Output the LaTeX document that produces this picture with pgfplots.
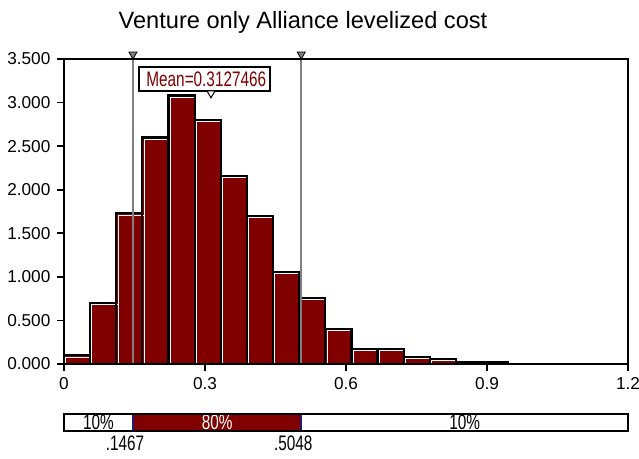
\documentclass[border=0pt]{standalone}
\usepackage{fontspec}
\setmainfont{Liberation Sans}
\newfontfamily\condfont{Liberation Sans}[FakeStretch=0.73]
\usepackage{pgfplots}
\usepackage{pgfplotstable}
\pgfplotsset{compat=1.18}

\definecolor{barred}{HTML}{800000}
\definecolor{lgray}{HTML}{808080}
\definecolor{pblue}{HTML}{1A1A80}

% histogram: left bin edges (bin width 0.0556), density
\pgfplotstableread{
x      y
0.0000 0.10
0.0556 0.70
0.1112 1.73
0.1668 2.60
0.2224 3.08
0.2780 2.80
0.3336 2.16
0.3892 1.70
0.4448 1.06
0.5004 0.76
0.5560 0.40
0.6116 0.17
0.6672 0.17
0.7228 0.08
0.7784 0.06
0.8340 0.02
0.8896 0.02
0.9452 0.02
}\histdata

\begin{document}
\begin{tikzpicture}
\begin{axis}[
    at={(0,0)}, anchor=south west,
    scale only axis, width=282pt, height=152.5pt,
    xmin=0, xmax=1.2, ymin=0, ymax=3.5,
    xtick={0,0.3,0.6,0.9,1.2},
    ytick={0,0.5,1,1.5,2,2.5,3,3.5},
    xtick pos=bottom, ytick pos=left,
    yticklabel style={/pgf/number format/.cd, fixed, fixed zerofill, precision=3},
    /pgf/number format/assume math mode=true,
    tick label style={font=\fontsize{8.6}{10}\selectfont},
    tick align=outside, major tick length=3.3pt,
    axis line style={line width=1pt},
    every tick/.style={black, line width=0.8pt},
    axis on top,
]
% bars: fill, white highlight, black outline
\addplot[ybar interval, fill=barred, draw=none] table {\histdata};
\addplot[ybar interval, fill=none, draw=white, line width=0.5pt,
    transform canvas={xshift=0.9pt, yshift=-0.9pt}] table {\histdata};
\addplot[ybar interval, fill=none, draw=black, line width=1.1pt] table {\histdata};

% 10% / 90% percentile lines
\addplot[lgray, line width=0.8pt] coordinates {(0.1467,0) (0.1467,3.5)};
\addplot[lgray, line width=0.8pt] coordinates {(0.5048,0) (0.5048,3.5)};
\addplot[only marks, mark=triangle*, mark size=2.3pt,
    mark options={yshift=2.3pt, rotate=180, fill=lgray, draw=black, line width=0.4pt}]
    coordinates {(0.1467,3.5) (0.5048,3.5)};

% mean marker
\draw[line width=0.8pt] (axis cs:0.160,3.41) rectangle (axis cs:0.438,3.134);
\node[anchor=west, inner sep=0pt, text=barred, font=\condfont\fontsize{10.5}{11}\selectfont]
    at (axis cs:0.1745,3.271) {Mean=0.3127466};
\addplot[only marks, mark=triangle*, mark size=2.3pt,
    mark options={yshift=2.3pt, rotate=180, fill=white, draw=black, line width=0.5pt}]
    coordinates {(0.3127466,3.054)};
\end{axis}

\node[font=\fontsize{11.8}{14}\selectfont] at (119.5pt,171pt)
    {Venture only Alliance levelized cost};

% percentile strip
\begin{axis}[
    at={(0,-33.5pt)}, anchor=south west,
    scale only axis, width=282pt, height=8.5pt,
    xmin=0, xmax=1.2, ymin=0, ymax=1,
    xtick=\empty, ytick=\empty,
    axis line style={line width=1pt},
    axis on top, clip=false,
]
\addplot[fill=barred, draw=none] coordinates {(0.1467,1) (0.5048,1)} \closedcycle;
\addplot[pblue, line width=0.8pt] coordinates {(0.1467,0) (0.1467,1)};
\addplot[pblue, line width=0.8pt] coordinates {(0.5048,0) (0.5048,1)};
\node[font=\condfont\fontsize{10.5}{11}\selectfont] at (axis cs:0.0734,0.5) {10\%};
\node[text=white, font=\condfont\fontsize{10.5}{11}\selectfont] at (axis cs:0.3258,0.5) {80\%};
\node[font=\condfont\fontsize{10.5}{11}\selectfont] at (axis cs:0.8524,0.5) {10\%};
\node[anchor=north, inner sep=1pt, xshift=-4pt, yshift=-1pt,
    font=\condfont\fontsize{10.5}{11}\selectfont] at (axis cs:0.1467,0) {.1467};
\node[anchor=north, inner sep=1pt, xshift=-4pt, yshift=-1pt,
    font=\condfont\fontsize{10.5}{11}\selectfont] at (axis cs:0.5048,0) {.5048};
\end{axis}

\pgfresetboundingbox
\useasboundingbox (-32pt,-47.5pt) rectangle (287.5pt,182pt);
\end{tikzpicture}
\end{document}
